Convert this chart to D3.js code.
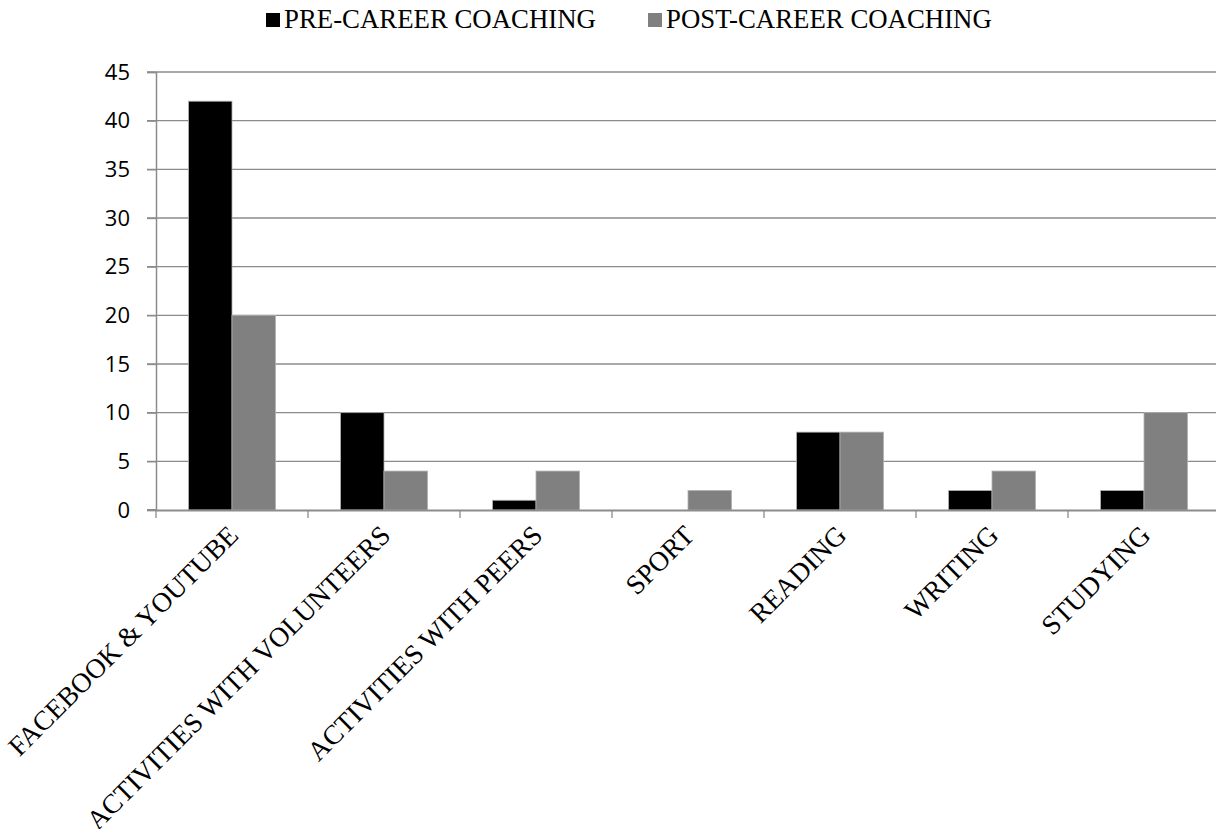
<!DOCTYPE html>
<html>
<head>
<meta charset="utf-8">
<script src="https://cdn.jsdelivr.net/npm/d3@7"></script>
<style>
  html, body { margin: 0; padding: 0; background: #fff; }
  svg { display: block; }
</style>
</head>
<body>
<svg id="chart" width="1216" height="829"></svg>
<script>
const categories = ["FACEBOOK & YOUTUBE", "ACTIVITIES WITH VOLUNTEERS", "ACTIVITIES WITH PEERS", "SPORT", "READING", "WRITING", "STUDYING"];
const seriesNames = ["PRE-CAREER COACHING", "POST-CAREER COACHING"];
const preValues = [42, 10, 1, 0, 8, 2, 2];
const postValues = [20, 4, 4, 2, 8, 4, 10];
const yTicks = [0, 5, 10, 15, 20, 25, 30, 35, 40, 45];
const seriesColors = ["#000000", "#808080"];

(function () {
const svg = d3.select("#chart");
const plotLeft = 156, bandStep = 152, plotTop = 72, plotBottom = 510;
const plotRight = plotLeft + bandStep * categories.length;

const x0 = d3.scaleBand().domain(categories).range([plotLeft, plotRight]).paddingInner(0).paddingOuter(0);
const x1 = d3.scaleBand().domain(seriesNames).range([0, x0.bandwidth()]).paddingInner(0).paddingOuter(0.75);
const y = d3.scaleLinear().domain([0, 45]).range([plotBottom, plotTop]);

const gridColor = "#8c8c8c";

// gridlines
svg.append("g").selectAll("line").data(yTicks.filter(d => d > 0)).join("line")
  .attr("x1", plotLeft - 9).attr("x2", plotRight)
  .attr("y1", d => y(d)).attr("y2", d => y(d))
  .attr("stroke", gridColor).attr("stroke-width", 1.3);

// y axis
const yAxis = d3.axisLeft(y).tickValues(yTicks).tickSize(9).tickPadding(17).tickFormat(d3.format("d"));
const yg = svg.append("g").attr("transform", `translate(${plotLeft},0)`).call(yAxis);
yg.select(".domain").attr("stroke", gridColor).attr("stroke-width", 1.5);
yg.selectAll(".tick line").attr("stroke", gridColor).attr("stroke-width", 1.3);
yg.selectAll(".tick text").attr("font-family", "'Open Sans', sans-serif").attr("font-size", 22).attr("fill", "#000");

// bars
const data = categories.map((c, i) => ({cat: c, vals: [preValues[i], postValues[i]]}));
const groups = svg.append("g").selectAll("g").data(data).join("g")
  .attr("transform", d => `translate(${x0(d.cat)},0)`);
groups.selectAll("rect").data(d => d.vals.map((v, j) => ({s: seriesNames[j], v, j}))).join("rect")
  .attr("x", d => x1(d.s))
  .attr("width", x1.bandwidth())
  .attr("y", d => y(d.v))
  .attr("height", d => plotBottom - y(d.v))
  .attr("fill", d => seriesColors[d.j])
  .attr("stroke", d => d.v > 0 ? "#b0b0b0" : "none")
  .attr("stroke-width", 0.8);

// x axis
const xAxis = d3.axisBottom(x0).tickSize(0).tickFormat("");
const xg = svg.append("g").attr("transform", `translate(0,${plotBottom})`).call(xAxis);
xg.select(".domain").attr("stroke", gridColor).attr("stroke-width", 2);
const boundaries = d3.range(categories.length + 1).map(i => plotLeft + i * x0.step());
svg.append("g").selectAll("line").data(boundaries).join("line")
  .attr("x1", d => d).attr("x2", d => d)
  .attr("y1", plotBottom).attr("y2", plotBottom + 8)
  .attr("stroke", gridColor).attr("stroke-width", 1.3);
svg.append("line").attr("x1", plotLeft - 9).attr("x2", plotLeft).attr("y1", plotBottom).attr("y2", plotBottom)
  .attr("stroke", gridColor).attr("stroke-width", 2);

// x labels
svg.append("g").selectAll("text").data(categories).join("text")
  .attr("transform", d => `translate(${x0(d) + x0.bandwidth() / 2 + 8},${plotBottom + 27}) rotate(-45)`)
  .attr("text-anchor", "end")
  .attr("font-family", "'Liberation Serif', 'Times New Roman', serif")
  .attr("font-size", 27.5)
  .attr("fill", "#000")
  .text(d => d);

// legend
const legendItems = [{name: seriesNames[0], color: seriesColors[0], x: 266}, {name: seriesNames[1], color: seriesColors[1], x: 648}];
const lg = svg.append("g").selectAll("g").data(legendItems).join("g")
  .attr("transform", d => `translate(${d.x},0)`);
lg.append("rect").attr("x", 0).attr("y", 13).attr("width", 14).attr("height", 14).attr("fill", d => d.color);
lg.append("text").attr("x", 18).attr("y", 27.5)
  .attr("font-family", "'Liberation Serif', 'Times New Roman', serif")
  .attr("font-size", 26.8).attr("fill", "#000")
  .text(d => d.name);
})();
</script>
</body>
</html>
